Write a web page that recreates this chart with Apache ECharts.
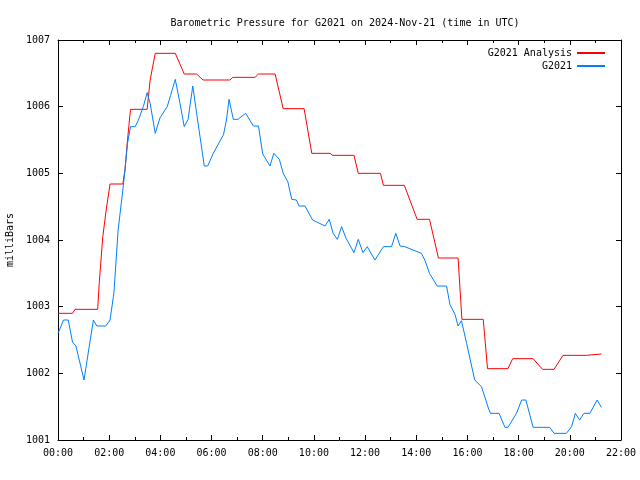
<!DOCTYPE html>
<html><head><meta charset="utf-8">
<script src="https://cdn.jsdelivr.net/npm/echarts@6/dist/echarts.min.js"></script>
<style>html,body{margin:0;padding:0;background:#fff}#c{width:640px;height:480px}</style>
</head><body><div id="c"></div>
<script>
var analysisTimes = ["00:00","00:34","00:40","01:33","01:37","01:45","01:53","02:02","02:32","02:37","02:43","02:50","03:29","03:36","03:48","04:35","04:56","05:25","05:40","06:43","06:50","07:42","07:50","08:29","08:48","09:37","09:55","10:38","10:44","11:34","11:44","12:36","12:43","13:32","14:02","14:31","14:52","15:38","15:47","16:37","16:47","17:35","17:46","18:34","18:56","19:23","19:44","20:39","20:42","21:14"];
var analysisValues = [1002.9,1002.9,1002.96,1002.96,1003.38,1004.05,1004.45,1004.84,1004.84,1005.05,1005.5,1005.96,1005.96,1006.4,1006.8,1006.8,1006.49,1006.49,1006.4,1006.4,1006.44,1006.44,1006.49,1006.49,1005.97,1005.97,1005.3,1005.3,1005.27,1005.27,1005.0,1005.0,1004.82,1004.82,1004.31,1004.31,1003.73,1003.73,1002.81,1002.81,1002.07,1002.07,1002.22,1002.22,1002.06,1002.06,1002.27,1002.27,1002.29,1002.29];
var stationTimes = ["00:00","00:13","00:24","00:34","00:42","01:01","01:09","01:23","01:31","01:52","02:02","02:11","02:21","02:32","02:37","02:43","02:50","03:01","03:08","03:20","03:29","03:36","03:48","03:59","04:16","04:24","04:35","04:46","04:56","05:05","05:16","05:25","05:43","05:51","06:04","06:28","06:35","06:41","06:51","07:02","07:20","07:38","07:50","08:00","08:17","08:26","08:39","08:48","08:59","09:08","09:19","09:25","09:39","09:57","10:26","10:36","10:45","10:55","11:05","11:15","11:34","11:44","11:55","12:05","12:23","12:43","13:02","13:12","13:22","13:33","14:12","14:20","14:31","14:49","15:11","15:19","15:31","15:38","15:46","15:58","16:17","16:33","16:49","16:54","17:14","17:28","17:35","17:55","18:07","18:17","18:34","19:13","19:23","19:52","20:04","20:13","20:23","20:33","20:47","21:04","21:14"];
var stationValues = [1002.6,1002.8,1002.8,1002.47,1002.41,1001.9,1002.23,1002.8,1002.71,1002.71,1002.8,1003.2,1004.15,1004.75,1005.05,1005.45,1005.7,1005.7,1005.79,1006.0,1006.21,1006.05,1005.6,1005.83,1006.0,1006.17,1006.41,1006.05,1005.7,1005.81,1006.31,1005.9,1005.11,1005.11,1005.3,1005.58,1005.8,1006.11,1005.81,1005.81,1005.9,1005.71,1005.71,1005.29,1005.11,1005.3,1005.21,1005.0,1004.87,1004.61,1004.6,1004.51,1004.51,1004.3,1004.21,1004.31,1004.1,1004.01,1004.2,1004.03,1003.81,1004.01,1003.81,1003.9,1003.7,1003.9,1003.9,1004.1,1003.91,1003.9,1003.8,1003.7,1003.5,1003.31,1003.31,1003.03,1002.88,1002.71,1002.79,1002.45,1001.9,1001.8,1001.48,1001.4,1001.4,1001.19,1001.19,1001.4,1001.6,1001.6,1001.19,1001.19,1001.1,1001.1,1001.2,1001.4,1001.3,1001.4,1001.4,1001.6,1001.49];
var seriesNames = ["G2021 Analysis","G2021"];
var titleText = "Barometric Pressure for G2021 on 2024-Nov-21 (time in UTC)";

function toHours(s){var p=s.split(":");return +p[0]+(+p[1])/60;}
function pairs(ts,vs){return ts.map(function(t,i){return [toHours(t),vs[i]];});}
function fmtHour(v){var h=Math.round(v);return (h<10?"0":"")+h+":00";}

var font = "DejaVu Sans Mono";
var chart = echarts.init(document.getElementById('c'), null, {renderer:'canvas'});
var axisCommonX = {
  type:'value', min:0, max:22, interval:2,
  axisLine:{show:true, onZero:false, lineStyle:{color:'#000', width:1}},
  axisTick:{show:true, inside:true, length:5, lineStyle:{color:'#000'}},
  minorTick:{show:true, splitNumber:2, length:3, lineStyle:{color:'#000'}},
  splitLine:{show:false}
};
var axisCommonY = {
  type:'value', min:1001, max:1007, interval:1,
  axisLine:{show:true, onZero:false, lineStyle:{color:'#000', width:1}},
  axisTick:{show:true, inside:true, length:5, lineStyle:{color:'#000'}},
  splitLine:{show:false}
};
chart.setOption({
  animation:false,
  backgroundColor:'#fff',
  title:{text:titleText, left:340, textAlign:'center', top:13,
    textStyle:{fontFamily:font, fontSize:10, fontWeight:'normal', color:'#000'}},
  legend:{orient:'vertical', right:30, top:43, align:'right', itemWidth:28, itemHeight:10, itemGap:3,
    icon:'path://M0,4L28,4L28,6L0,6Z',
    textStyle:{fontFamily:font, fontSize:10, color:'#000'},
    data:seriesNames},
  grid:{left:58, right:19, top:40, bottom:40, containLabel:false, outerBoundsMode:'none'},
  xAxis:[
    Object.assign({}, axisCommonX, {position:'bottom',
      axisLabel:{show:true, formatter:fmtHour, fontFamily:font, fontSize:10, color:'#000', margin:8}}),
    Object.assign({}, axisCommonX, {position:'top', axisLabel:{show:false}})
  ],
  yAxis:[
    Object.assign({}, axisCommonY, {position:'left', name:'milliBars', nameLocation:'middle', nameGap:42,
      nameTextStyle:{fontFamily:font, fontSize:10, color:'#000'},
      axisLabel:{show:true, formatter:function(v){return String(v);}, fontFamily:font, fontSize:10, color:'#000', margin:8}}),
    Object.assign({}, axisCommonY, {position:'right', axisLabel:{show:false}})
  ],
  series:[
    {name:seriesNames[0], type:'line', data:pairs(analysisTimes, analysisValues), showSymbol:false,
      itemStyle:{color:'#ff0000'}, lineStyle:{color:'#ff0000', width:1}, xAxisIndex:0, yAxisIndex:0},
    {name:seriesNames[1], type:'line', data:pairs(stationTimes, stationValues), showSymbol:false,
      itemStyle:{color:'#0080ff'}, lineStyle:{color:'#0080ff', width:1}, xAxisIndex:0, yAxisIndex:0}
  ]
});
</script></body></html>
